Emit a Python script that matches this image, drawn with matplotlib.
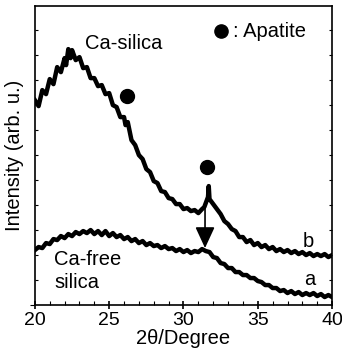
import matplotlib.pyplot as plt
from matplotlib.ticker import MultipleLocator

plt.rcParams['font.family'] = ['Liberation Sans', 'DejaVu Sans']

# 2theta positions and intensities (arb. units)
two_theta_b = [20.0, 20.25, 20.5, 20.75, 21.0, 21.25, 21.5, 21.75, 22.0, 22.1,
               22.25, 22.4, 22.5, 22.75, 23.0, 23.25, 23.5, 23.75, 24.0, 24.25,
               24.5, 24.75, 25.0, 25.25, 25.5, 25.75, 26.0, 26.1, 26.25, 26.5,
               26.75, 27.0, 27.25, 27.5, 27.75, 28.0, 28.25, 28.5, 28.75, 29.0,
               29.25, 29.5, 29.75, 30.0, 30.25, 30.5, 30.75, 31.0, 31.25, 31.4,
               31.55, 31.65, 31.7, 31.75, 31.9, 32.0, 32.25, 32.5, 32.75, 33.0,
               33.25, 33.5, 33.75, 34.0, 34.25, 34.5, 34.75, 35.0, 35.25, 35.5,
               35.75, 36.0, 36.25, 36.5, 36.75, 37.0, 37.25, 37.5, 37.75, 38.0,
               38.25, 38.5, 38.75, 39.0, 39.25, 39.5, 39.75, 40.0]
int_b = [205, 199, 215, 211, 226, 221, 238, 233, 247, 240,
         256, 247, 255, 245, 248, 237, 238, 227, 227, 219,
         220, 211, 212, 200, 198, 188, 188, 180, 183, 165,
         160, 150, 146, 136, 133, 124, 122, 114, 113, 107,
         106, 101, 101, 96, 97, 94, 95, 92, 96, 98,
         104, 108, 119, 106, 103, 101, 96, 91, 84, 81,
         76, 74, 68, 68, 63, 65, 60, 62, 58, 60,
         56, 58, 54, 56, 53, 55, 52, 54, 51, 53,
         50, 52, 49, 51, 49, 51, 48, 50]

two_theta_a = [20.0, 20.25, 20.5, 20.75, 21.0, 21.25, 21.5, 21.75, 22.0, 22.25,
               22.5, 22.75, 23.0, 23.25, 23.5, 23.75, 24.0, 24.25, 24.5, 24.75,
               25.0, 25.25, 25.5, 25.75, 26.0, 26.25, 26.5, 26.75, 27.0, 27.25,
               27.5, 27.75, 28.0, 28.25, 28.5, 28.75, 29.0, 29.25, 29.5, 29.75,
               30.0, 30.25, 30.5, 30.75, 31.0, 31.25, 31.5, 31.75, 32.0, 32.25,
               32.5, 32.75, 33.0, 33.25, 33.5, 33.75, 34.0, 34.25, 34.5, 34.75,
               35.0, 35.25, 35.5, 35.75, 36.0, 36.25, 36.5, 36.75, 37.0, 37.25,
               37.5, 37.75, 38.0, 38.25, 38.5, 38.75, 39.0, 39.25, 39.5, 39.75,
               40.0]
int_a = [55, 58, 57, 62, 61, 66, 65, 69, 67, 71,
         69, 73, 71, 74, 72, 75, 71, 74, 70, 74,
         69, 72, 68, 70, 66, 68, 64, 66, 62, 64,
         60, 62, 59, 60, 57, 59, 56, 57, 54, 56,
         53, 55, 52, 54, 53, 56, 54, 53, 48, 47,
         42, 41, 37, 37, 33, 33, 30, 30, 27, 27,
         24, 23, 20, 20, 17, 17, 14, 15, 12, 14,
         11, 13, 10, 12, 10, 12, 9, 11, 8, 10,
         8]

apatite_x = [26.2, 31.58]
apatite_y = [209, 138]

fig = plt.figure(figsize=(3.42, 3.61), dpi=100)
ax = fig.add_axes([0.102, 0.155, 0.869, 0.828])

ax.plot(two_theta_b, int_b, color='black', lw=3.2)
ax.plot(two_theta_a, int_a, color='black', lw=3.2)
ax.plot(apatite_x, apatite_y, 'o', color='black', ms=10)

ax.annotate('', xy=(31.45, 57), xytext=(31.45, 98),
            arrowprops=dict(arrowstyle='-|>,head_length=1.3,head_width=0.6',
                            color='black', lw=1.2, shrinkA=0, shrinkB=0))

ax.text(26.0, 262, 'Ca-silica', fontsize=14.5, ha='center', va='center')
ax.plot([32.5], [274], 'o', color='black', ms=9.5)
ax.text(33.3, 274, ': Apatite', fontsize=14.5, ha='left', va='center')
ax.text(38.4, 64, 'b', fontsize=14.5, ha='center', va='center')
ax.text(38.5, 26, 'a', fontsize=14.5, ha='center', va='center')
ax.text(21.3, 46, 'Ca-free', fontsize=14.5, ha='left', va='center')
ax.text(21.3, 23, 'silica', fontsize=14.5, ha='left', va='center')

ax.set_xlim(20, 40)
ax.set_ylim(0, 299)
ax.xaxis.set_major_locator(MultipleLocator(5))
ax.xaxis.set_minor_locator(MultipleLocator(1))
ax.yaxis.set_major_locator(MultipleLocator(1000))
ax.yaxis.set_minor_locator(MultipleLocator(25))
ax.tick_params(axis='x', which='major', direction='inout', length=6, width=1.2,
               labelsize=14, pad=2)
ax.tick_params(axis='x', which='minor', direction='in', length=3, width=0.8)
ax.tick_params(axis='y', which='minor', direction='in', length=2, width=0.8,
               left=True, right=True)
ax.tick_params(axis='y', labelleft=False)
for s in ax.spines.values():
    s.set_linewidth(1.2)

ax.set_xlabel('2θ/Degree', fontsize=14.5, labelpad=0)
ax.set_ylabel('Intensity (arb. u.)', fontsize=14.5, labelpad=4)

fig.savefig('out.png', dpi=100)
